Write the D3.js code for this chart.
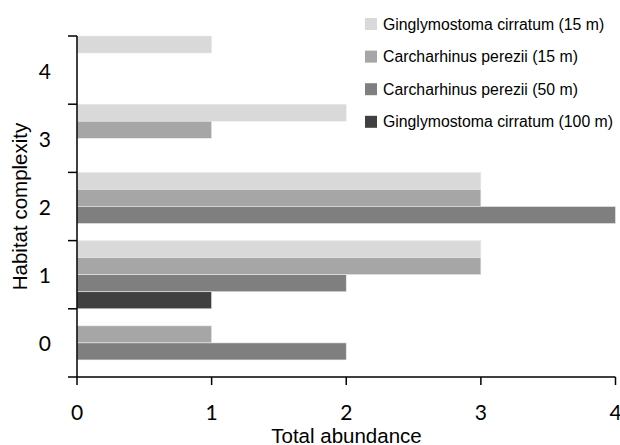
<!DOCTYPE html>
<html><head><meta charset="utf-8">
<script src="https://cdn.jsdelivr.net/npm/d3@7"></script>
<style>body{margin:0;background:#fff}svg{display:block}</style>
</head><body><svg id="c" width="620" height="445"></svg>
<script>
const categories = ["4", "3", "2", "1", "0"];
const seriesNames = ["Ginglymostoma cirratum (15 m)", "Carcharhinus perezii (15 m)", "Carcharhinus perezii (50 m)", "Ginglymostoma cirratum (100 m)"];
// values per series, in the order of categories (4,3,2,1,0)
const gc15 = [1, 2, 3, 3, 0];
const cp15 = [0, 1, 3, 3, 1];
const cp50 = [0, 0, 4, 2, 2];
const gc100 = [0, 0, 0, 1, 0];
const xTicks = [0, 1, 2, 3, 4];
const colors = ["#d9d9d9", "#a6a6a6", "#7f7f7f", "#404040"];

const seriesValues = [gc15, cp15, cp50, gc100];
const svg = d3.select("#c");
const mLeft = 77, mRight = 615.5, mTop = 36, mBottom = 377;

const x = d3.scaleLinear().domain([0, 4]).range([mLeft, mRight]);
const y = d3.scaleBand().domain(categories).range([mTop, mBottom]).padding(0);
const ys = d3.scaleBand().domain(d3.range(seriesNames.length)).range([0, y.bandwidth()]).padding(0);

const data = [];
seriesValues.forEach((vals, si) => vals.forEach((v, ci) => data.push({s: si, c: categories[ci], v})));

svg.append("g").selectAll("rect").data(data.filter(d => d.v > 0)).join("rect")
  .attr("x", x(0))
  .attr("y", d => y(d.c) + ys(d.s))
  .attr("width", d => x(d.v) - x(0))
  .attr("height", ys.bandwidth())
  .attr("fill", d => colors[d.s])
  .attr("stroke", "#ececec").attr("stroke-width", 0.6);

// Y axis: ticks at band boundaries
const yBounds = categories.map(c => y(c)).concat([mBottom]);
const ya = svg.append("g");
ya.append("line").attr("x1", mLeft).attr("x2", mLeft).attr("y1", mTop).attr("y2", mBottom)
  .attr("stroke", "#000").attr("stroke-width", 1.5);
ya.selectAll("line.t").data(yBounds).join("line").attr("class", "t")
  .attr("x1", mLeft - 9).attr("x2", mLeft).attr("y1", d => d).attr("y2", d => d)
  .attr("stroke", "#000").attr("stroke-width", 1.5);
ya.selectAll("text").data(categories).join("text")
  .attr("x", 51).attr("y", d => y(d) + y.bandwidth() / 2)
  .attr("text-anchor", "end").attr("dominant-baseline", "central")
  .attr("font-family", "Lato, 'Open Sans', sans-serif").attr("font-size", 21)
  .attr("fill", "#000").text(d => d);

// X axis
const xa = svg.append("g");
xa.append("line").attr("x1", mLeft).attr("x2", mRight).attr("y1", mBottom).attr("y2", mBottom)
  .attr("stroke", "#000").attr("stroke-width", 1.5);
xa.selectAll("line.t").data(xTicks).join("line").attr("class", "t")
  .attr("x1", d => x(d)).attr("x2", d => x(d)).attr("y1", mBottom).attr("y2", mBottom + 8)
  .attr("stroke", "#000").attr("stroke-width", 1.5);
xa.selectAll("text").data(xTicks).join("text")
  .attr("x", d => x(d)).attr("y", 420)
  .attr("text-anchor", "middle")
  .attr("font-family", "Lato, 'Open Sans', sans-serif").attr("font-size", 21)
  .attr("fill", "#000").text(d => d);

svg.append("text").attr("x", 346.5).attr("y", 443).attr("text-anchor", "middle")
  .attr("font-family", "Arial, 'Liberation Sans', sans-serif").attr("font-size", 20.5)
  .attr("fill", "#000").text("Total abundance");

svg.append("text").attr("transform", "translate(27,206.5) rotate(-90)").attr("text-anchor", "middle")
  .attr("font-family", "Arial, 'Liberation Sans', sans-serif").attr("font-size", 20.5)
  .attr("fill", "#000").text("Habitat complexity");

// Legend
const lg = svg.append("g");
const rows = lg.selectAll("g").data(seriesNames).join("g")
  .attr("transform", (d, i) => `translate(365,${24 + i * 32.6})`);
rows.append("rect").attr("x", 0).attr("y", -6).attr("width", 12).attr("height", 12)
  .attr("fill", (d, i) => colors[i]);
rows.append("text").attr("x", 18).attr("y", 0).attr("dominant-baseline", "central")
  .attr("font-family", "Arial, 'Liberation Sans', sans-serif").attr("font-size", 15.8)
  .attr("fill", "#000").text(d => d);
</script></body></html>
